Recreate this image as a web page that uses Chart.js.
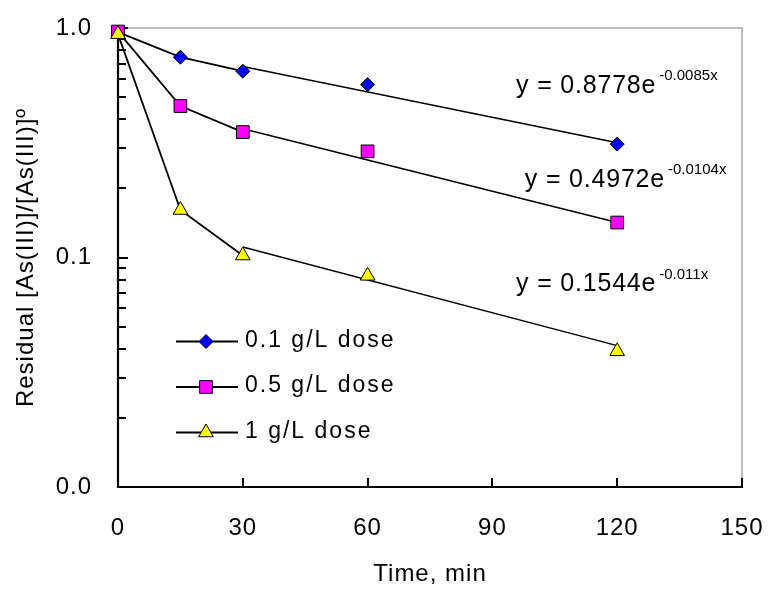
<!DOCTYPE html>
<html>
<head>
<meta charset="utf-8">
<script src="https://cdn.jsdelivr.net/npm/chart.js@4.4.0/dist/chart.umd.min.js"></script>
<style>
  html, body { margin: 0; padding: 0; background: #ffffff; }
  #wrap { width: 774px; height: 595px; }
</style>
</head>
<body>
<div id="wrap"><canvas id="c" width="774" height="595"></canvas></div>
<script>
// ---------------- data ----------------
const times = [0, 15, 30, 60, 120];
const dose01 = [0.96, 0.746, 0.648, 0.567, 0.312];
const dose05 = [0.965, 0.457, 0.352, 0.290, 0.142];
const dose1 = [0.94, 0.161, 0.102, 0.0832, 0.039];
const trendTimes = [30, 120];
const trend01 = [0.680, 0.316];
const trend05 = [0.364, 0.142];
const trend1 = [0.111, 0.0413];
const seriesLabels = ['0.1 g/L dose', '0.5 g/L dose', '1 g/L dose'];
const eqMain = ['y = 0.8778e', 'y = 0.4972e', 'y = 0.1544e'];
const eqExp = ['-0.0085x', '-0.0104x', '-0.011x'];
const xTickStep = 30;
const yTickValues = [0.01, 0.1, 1];
const yTickLabels = ['0.0', '0.1', '1.0'];
const yMinorValues = [0.02, 0.03, 0.04, 0.05, 0.06, 0.07, 0.08, 0.09,
                      0.2, 0.3, 0.4, 0.5, 0.6, 0.7, 0.8, 0.9];

const FONT = '"Liberation Sans", Arial, Helvetica, sans-serif';
Chart.defaults.font.family = FONT;
Chart.defaults.color = '#000000';

function pts(xs, ys) { return xs.map((x, i) => ({ x: x, y: ys[i] })); }

const markerStyles = [
  { pointStyle: 'rectRot', radius: 7, fill: '#0000FF' },
  { pointStyle: 'rect', radius: 9, fill: '#FF00FF' },
  { pointStyle: 'triangle', radius: 8.5, fill: '#FFFF00' }
];
const seriesValues = [dose01, dose05, dose1];
const trendValues = [trend01, trend05, trend1];

const datasets = [];
seriesValues.forEach((vals, i) => {
  const m = markerStyles[i];
  datasets.push({
    label: seriesLabels[i],
    legendItem: true,
    data: pts(times, vals),
    showLine: true,
    borderColor: '#000000',
    borderWidth: 1.8,
    segment: { borderColor: c => (c.p0DataIndex >= 2 ? 'rgba(0,0,0,0)' : undefined) },
    pointStyle: m.pointStyle,
    pointRadius: m.radius,
    pointHoverRadius: m.radius,
    pointBackgroundColor: m.fill,
    pointBorderColor: '#000000',
    pointBorderWidth: 1,
    clip: false,
    order: 3 - i
  });
});
trendValues.forEach((vals, i) => {
  datasets.push({
    label: 'trend ' + seriesLabels[i],
    data: pts(trendTimes, vals),
    showLine: true,
    borderColor: '#000000',
    borderWidth: 1.5,
    pointRadius: 0,
    pointHoverRadius: 0,
    clip: false,
    order: 10
  });
});

function drawMarker(ctx, style, r, x, y, fill) {
  ctx.save();
  ctx.fillStyle = fill;
  ctx.strokeStyle = '#000000';
  ctx.lineWidth = 1;
  if (Chart.helpers && Chart.helpers.drawPoint) {
    Chart.helpers.drawPoint(ctx, { pointStyle: style, radius: r, rotation: 0, borderWidth: 1 }, x, y);
  } else {
    ctx.beginPath();
    if (style === 'rectRot') {
      ctx.moveTo(x, y - r); ctx.lineTo(x + r, y); ctx.lineTo(x, y + r); ctx.lineTo(x - r, y);
    } else if (style === 'rect') {
      const s = r * Math.SQRT1_2; ctx.rect(x - s, y - s, 2 * s, 2 * s);
    } else {
      for (let k = 0; k < 3; k++) {
        const a = k * 2 * Math.PI / 3;
        const px = x + Math.sin(a) * r, py = y - Math.cos(a) * r;
        if (k === 0) ctx.moveTo(px, py); else ctx.lineTo(px, py);
      }
    }
    ctx.closePath(); ctx.fill(); ctx.stroke();
  }
  ctx.restore();
}

const axesPlugin = {
  id: 'axesDecor',
  beforeDraw(chart) { chart.ctx.letterSpacing = '1px'; },
  beforeDatasetsDraw(chart) {
    const { ctx, chartArea: a, scales } = chart;
    const xs = scales.x, ys = scales.y;
    ctx.save();
    ctx.letterSpacing = '0px';
    // top / right frame (gray)
    ctx.strokeStyle = '#a8a8a8';
    ctx.lineWidth = 1.5;
    ctx.beginPath();
    ctx.moveTo(a.left, a.top);
    ctx.lineTo(a.right, a.top);
    ctx.lineTo(a.right, a.bottom);
    ctx.stroke();
    // black axes
    ctx.strokeStyle = '#000000';
    ctx.lineWidth = 2.2;
    ctx.beginPath();
    ctx.moveTo(a.left, a.top);
    ctx.lineTo(a.left, a.bottom);
    ctx.lineTo(a.right + 1, a.bottom);
    ctx.stroke();
    // y ticks (inside)
    ctx.lineWidth = 2;
    ctx.beginPath();
    yMinorValues.forEach(v => {
      const py = Math.round(ys.getPixelForValue(v));
      ctx.moveTo(a.left, py); ctx.lineTo(a.left + 8, py);
    });
    yTickValues.forEach(v => {
      const py = Math.round(ys.getPixelForValue(v));
      ctx.moveTo(a.left, py); ctx.lineTo(a.left + 10, py);
    });
    // x ticks (inside)
    for (let v = xs.min + xTickStep; v <= xs.max + 1e-9; v += xTickStep) {
      const px = Math.round(xs.getPixelForValue(v));
      ctx.moveTo(px, a.bottom); ctx.lineTo(px, a.bottom - 9);
    }
    ctx.stroke();
    ctx.restore();
  }
};

const legendPlugin = {
  id: 'insideLegend',
  afterDatasetsDraw(chart) {
    const { ctx, chartArea: a } = chart;
    const rows = [313.5, 359, 404.5];
    const items = chart.data.datasets.filter(d => d.legendItem);
    items.forEach((ds, i) => {
      const yy = a.top + rows[i];
      ctx.save();
      ctx.strokeStyle = '#000000';
      ctx.lineWidth = 1.8;
      ctx.beginPath();
      ctx.moveTo(a.left + 58, yy);
      ctx.lineTo(a.left + 120, yy);
      ctx.stroke();
      drawMarker(ctx, ds.pointStyle, ds.pointRadius, a.left + 88, yy, ds.pointBackgroundColor);
      ctx.fillStyle = '#000000';
      ctx.font = '23px ' + FONT;
      ctx.letterSpacing = '2px';
      ctx.textBaseline = 'middle';
      ctx.textAlign = 'left';
      ctx.fillText(ds.label, a.left + 127, yy - 1);
      ctx.restore();
    });
  }
};

const eqAnchors = [{ x: 95.7, y: 0.523 }, { x: 97.8, y: 0.203 }, { x: 95.7, y: 0.0714 }];
const eqPlugin = {
  id: 'equations',
  afterDatasetsDraw(chart) {
    const { ctx, scales } = chart;
    eqMain.forEach((txt, i) => {
      const px = scales.x.getPixelForValue(eqAnchors[i].x);
      const py = scales.y.getPixelForValue(eqAnchors[i].y);
      ctx.save();
      ctx.fillStyle = '#000000';
      ctx.textBaseline = 'alphabetic';
      ctx.textAlign = 'left';
      ctx.font = '25px ' + FONT;
      ctx.letterSpacing = '0.8px';
      ctx.fillText(txt, px, py);
      const w = ctx.measureText(txt).width;
      ctx.font = '15px ' + FONT;
      ctx.letterSpacing = '0px';
      ctx.fillText(eqExp[i], px + w + 3, py - 12.5);
      ctx.restore();
    });
  }
};

function zeroPad(s) { s.paddingLeft = 0; s.paddingRight = 0; s.paddingTop = 0; s.paddingBottom = 0; }

new Chart(document.getElementById('c').getContext('2d'), {
  type: 'scatter',
  data: { datasets: datasets },
  options: {
    responsive: false,
    animation: false,
    events: [],
    layout: { padding: { top: 28, right: 32, left: 0, bottom: 0 } },
    plugins: { legend: { display: false }, tooltip: { enabled: false } },
    scales: {
      x: {
        type: 'linear',
        min: 0,
        max: 150,
        grid: { display: false, drawTicks: false },
        border: { display: false },
        ticks: { stepSize: xTickStep, color: '#000000', font: { size: 24 }, padding: 27 },
        title: { display: true, text: 'Time, min', color: '#000000', font: { size: 24 }, padding: { top: 0, bottom: 6 } },
        afterFit(s) { s.height = 108; zeroPad(s); }
      },
      y: {
        type: 'logarithmic',
        min: 0.01,
        max: 1,
        grid: { display: false, drawTicks: false },
        border: { display: false },
        afterBuildTicks(s) { s.ticks = yTickValues.map(v => ({ value: v, major: true })); },
        ticks: {
          color: '#000000',
          font: { size: 24 },
          padding: 26,
          autoSkip: false,
          callback: (v) => {
            const k = yTickValues.findIndex(t => Math.abs(t - v) < 1e-9);
            return k >= 0 ? yTickLabels[k] : '';
          }
        },
        title: { display: true, text: 'Residual [As(III)]/[As(III)]º', color: '#000000', font: { size: 24 }, padding: { top: 12, bottom: 0 } },
        afterFit(s) { s.width = 118; zeroPad(s); }
      }
    }
  },
  plugins: [axesPlugin, legendPlugin, eqPlugin]
});
</script>
</body>
</html>
